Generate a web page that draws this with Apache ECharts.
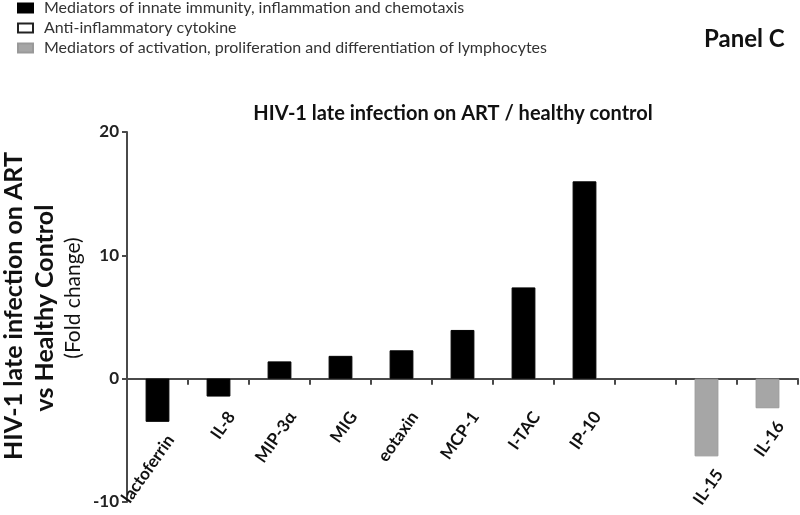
<!DOCTYPE html>
<html>
<head>
<meta charset="utf-8">
<script src="https://cdn.jsdelivr.net/npm/echarts@6/dist/echarts.min.js"></script>
<style>html,body{margin:0;padding:0;background:#fff}#c{width:800px;height:515px}</style>
</head>
<body>
<div id="c"></div>
<script>
const categories = ['lactoferrin','IL-8','MIP-3α','MIG','eotaxin','MCP-1','I-TAC','IP-10','','IL-15','IL-16'];
const innateValues = [-3.5, -1.45, 1.4, 1.85, 2.3, 3.95, 7.4, 16.0, null, null, null];
const antiValues = [null, null, null, null, null, null, null, null, null, null, null];
const activationValues = [null, null, null, null, null, null, null, null, null, -6.3, -2.4];
const yTicks = [-10, 0, 10, 20];
const seriesNames = ['Mediators of innate immunity, inflammation and chemotaxis','Anti-inflammatory cytokine','Mediators of activation, proliferation and differentiation of lymphocytes'];
const yNameLines = ['HIV-1 late infection on ART', 'vs Healthy Control', '(Fold change)'];

const chart = echarts.init(document.getElementById('c'));
const axisColor = '#4a4a4a';
const ang = 55 * Math.PI / 180;
const labelFont = {fontFamily: 'Lato', fontWeight: 'bold', fontSize: 17, fill: '#111'};

chart.setOption({
  animation: false,
  backgroundColor: '#fff',
  title: [
    {text: 'HIV-1 late infection on ART / healthy control', left: 448, top: 99, textAlign: 'center',
     textStyle: {fontFamily: 'Lato', fontWeight: 'bold', fontSize: 20, color: '#111'}},
    {text: 'Panel C', left: 699, top: 22,
     textStyle: {fontFamily: 'Lato', fontWeight: 'bold', fontSize: 24, color: '#111'}}
  ],
  legend: {
    orient: 'vertical', left: 12, top: -5, itemWidth: 15, itemHeight: 9, itemGap: 4,
    selectedMode: false,
    textStyle: {fontFamily: 'Lato', fontSize: 16, lineHeight: 16, color: '#333', padding: [0,0,0,6]},
    data: seriesNames.map(n => ({name: n, icon: 'rect'}))
  },
  grid: {left: 127, right: 2, top: 132, bottom: 13, containLabel: false},
  xAxis: {
    type: 'category', data: categories, boundaryGap: true,
    axisLine: {onZero: true, lineStyle: {color: axisColor, width: 2}},
    axisTick: {show: true, interval: 0, alignWithLabel: false, length: 6, lineStyle: {color: axisColor, width: 2}},
    axisLabel: {show: false}
  },
  yAxis: {
    type: 'value', min: -10, max: 20, interval: 10,
    axisLine: {show: true, lineStyle: {color: axisColor, width: 2}},
    axisTick: {show: true, length: 5, lineStyle: {color: axisColor, width: 2}},
    splitLine: {show: false},
    axisLabel: {fontFamily: 'Lato', fontWeight: 'bold', fontSize: 17, color: '#222', margin: 8,
      formatter: v => yTicks.includes(v) ? String(v) : ''}
  },
  series: [
    {name: seriesNames[0], type: 'bar', data: innateValues, barWidth: '39%', barGap: '-100%',
     itemStyle: {color: '#000', borderColor: '#000', borderWidth: 1}},
    {name: seriesNames[1], type: 'bar', data: antiValues, barWidth: '39%', barGap: '-100%',
     itemStyle: {color: '#fff', borderColor: '#222', borderWidth: 1}},
    {name: seriesNames[2], type: 'bar', data: activationValues, barWidth: '39%', barGap: '-100%',
     itemStyle: {color: '#a6a6a6', borderColor: '#999', borderWidth: 1}}
  ]
});

// y-axis title (three rotated lines) and category labels placed through the chart's scales
const graphics = [
  {type: 'text', x: 14, y: 306, rotation: Math.PI/2,
   style: {text: yNameLines[0], fontFamily: 'Lato', fontWeight: 'bold', fontSize: 25, fill: '#111', align: 'center', verticalAlign: 'middle'}},
  {type: 'text', x: 45, y: 308, rotation: Math.PI/2,
   style: {text: yNameLines[1], fontFamily: 'Lato', fontWeight: 'bold', fontSize: 25, fill: '#111', align: 'center', verticalAlign: 'middle'}},
  {type: 'text', x: 73, y: 298, rotation: Math.PI/2,
   style: {text: yNameLines[2], fontFamily: 'Lato', fontSize: 21, fill: '#111', align: 'center', verticalAlign: 'middle'}}
];
categories.forEach((c, i) => {
  if (!c) return;
  const v = innateValues[i] != null ? innateValues[i] : (activationValues[i] != null ? activationValues[i] : (antiValues[i] != null ? antiValues[i] : 0));
  const zero = chart.convertToPixel({gridIndex: 0}, [i, 0]);
  const end = chart.convertToPixel({gridIndex: 0}, [i, v]);
  const topY = Math.max(zero[1] + 30, end[1] + 10);
  graphics.push({type: 'text', x: zero[0] + 6, y: topY, rotation: ang, z: 10,
    style: Object.assign({text: c, align: 'right', verticalAlign: 'top'}, labelFont)});
});
chart.setOption({graphic: graphics});
</script>
</body>
</html>
